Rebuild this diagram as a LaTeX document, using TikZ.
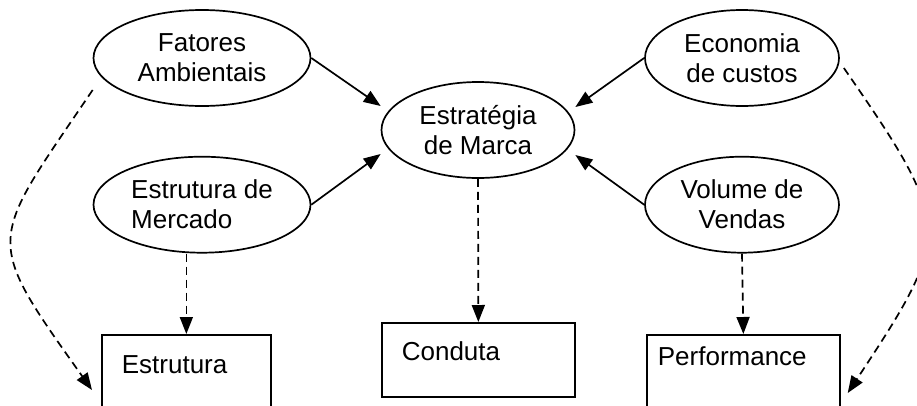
\documentclass[tikz,border=0pt]{standalone}
\usepackage{fontspec}
\setmainfont{Liberation Sans}
\usepackage{tikz}
\usetikzlibrary{arrows.meta,calc,positioning,shapes.geometric}

\begin{document}
\begin{tikzpicture}[x=1pt,y=-1pt,->,>={Triangle[length=17pt,width=13pt]},line width=1.7pt,
  node distance=49pt,font=\fontsize{26}{30}\selectfont,
  oval node/.style={ellipse,draw,inner sep=0pt,minimum height=96pt,align=center},
  box node/.style={rectangle,draw,anchor=north west,align=left,text height=19pt},
  dash link/.style={dash pattern=on 8pt off 5pt}]

  \useasboundingbox (0,0) rectangle (917,405);
  \clip (0,0) rectangle (917,405);

  \node[oval node,minimum width=217pt] (fat) at (202,58) {Fatores\\Ambientais};
  \node[oval node,minimum width=217pt,align=left] (merc) [below=of fat] {Estrutura de\\Mercado};
  \node[oval node,minimum width=193pt] (marca) at (478,130) {Estratégia\\de Marca};
  \node[oval node,minimum width=194pt] (eco) at (742,58) {Economia\\de custos};
  \node[oval node,minimum width=194pt] (vol) [below=of eco] {Volume de\\Vendas};

  \node[box node,text width=129pt,inner xsep=20pt,inner ysep=20pt,text depth=37pt] (estr) at (101,334) {Estrutura};
  \node[box node,text width=153pt,inner xsep=20pt,inner ysep=19pt,text depth=17pt] (cond) at (381,322) {Conduta};
  \node[box node,text width=171pt,inner xsep=11pt,inner ysep=12pt,text depth=53pt] (perf) at (646,334) {Performance};

  % influencias sobre a estrategia
  \draw (fat.east) -- ($(marca.west)+(0,-24)$);
  \draw (merc.east) -- ($(marca.west)+(0,24)$);
  \draw (eco.west) -- ($(marca.east)+(0,-23)$);
  \draw (vol.west) -- ($(marca.east)+(0,25)$);

  % ligacoes tracejadas
  \draw[dash link] (merc.south -| estr.north) -- (estr.north);
  \draw[dash link] (marca.south) -- (cond.north);
  \draw[dash link] (vol.south) -- (perf.north);
  \draw[dash link] ($(fat.west)+(0,32)$) .. controls +(-105,155) and +(-110,-155) .. ($(estr.north west)+(-9,56)$);
  \draw[dash link] ($(eco.east)+(4,10)$) .. controls +(110,159) and +(105,-159) .. ($(perf.north east)+(7,59)$);
\end{tikzpicture}
\end{document}
